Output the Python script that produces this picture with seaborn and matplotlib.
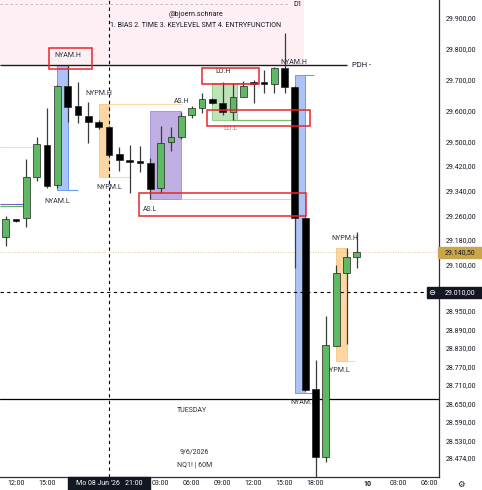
import numpy as np
import pandas as pd
import matplotlib.pyplot as plt
import matplotlib.transforms as mtransforms
from matplotlib.patches import Rectangle
import seaborn as sns

# NQ1! 60M candles, bar index 0 = Mo 08 Jun 12:00 (23:00 bar = session break)
bar = list(range(-1, 34))
open_ = [29189, 29245, 29250, 29383, 29489, 29357, 29680, 29615, 29583, 29564,
         29547, 29460, 29436, 29433, 29431, 29350, 29499, 29515, 29586, 29609,
         29638, 29625, 29596, 29645, 29688, 29689, 29686, 29738, 29677, 29250,
         28697, 28477, 28836, 29072, 29124]
high = [29257, 29248, 29444, 29515, 29609, 29682, 29748, 29693, 29628, 29568,
        29550, 29483, 29489, 29486, 29447, 29551, 29548, 29596, 29615, 29658,
        29641, 29693, 29690, 29696, 29699, 29732, 29742, 29852, 29680, 29255,
        28791, 28933, 29098, 29153, 29205]
low = [29160, 29240, 29221, 29370, 29350, 29350, 29564, 29560, 29496, 29540,
       29455, 29405, 29334, 29399, 29312, 29334, 29467, 29506, 29574, 29593,
       29622, 29586, 29570, 29645, 29625, 29658, 29658, 29657, 29090, 28690,
       28380, 28461, 28836, 28843, 29088]
close = [29247, 29243, 29383, 29492, 29354, 29680, 29612, 29586, 29564, 29547,
         29457, 29438, 29433, 29431, 29344, 29496, 29515, 29583, 29609, 29638,
         29625, 29596, 29645, 29680, 29685, 29686, 29738, 29677, 29250, 28694,
         28477, 28840, 29072, 29124, 29140.5]

df = pd.DataFrame({"bar": bar, "open": open_, "high": high, "low": low, "close": close})

# key levels
pdh = 29748
d1_low, d1_top = 29748, 29960
cursor_price = 29010
last_price = 29140.5
tuesday_line = 28665

# sessions: start bar, end bar, high, low
nyam_1 = (4, 5, 29748, 29341)
nypm_1 = (8, 9, 29622, 29383)
asia = (13, 16, 29599, 29312)
london = (19, 21.4, 29690, 29570)
nyam_2 = (27, 28, 29716, 28684)
nypm_2 = (31, 32, 29153, 28788)

# marked zones (red)
zones = [(3.2, 7.35, 29735, 29803), (18.0, 23.5, 29687, 29738),
         (18.5, 28.45, 29551, 29603), (11.9, 28.05, 29257, 29331)]

# y axis ticks (price scale) and time axis
y_ticks = [29900, 29800, 29700, 29600, 29500, 29420, 29340, 29260, 29180, 29100,
           28950, 28890, 28830, 28770, 28710, 28650, 28590, 28530, 28474]
x_ticks = [0, 3, 14, 17, 20, 23, 26, 29, 34, 37, 40]
x_labels = ["12:00", "15:00", "03:00", "06:00", "09:00", "12:00", "15:00",
            "18:00", "10", "03:00", "06:00"]

sns.set_theme(style="white")
plt.rcParams['font.family'] = ['Roboto', 'DejaVu Sans']

W, H = 482, 490
fig = plt.figure(figsize=(W / 100, H / 100), dpi=100)
ax = fig.add_axes([0, 13 / H, 439 / W, 477 / H])
x0, x1 = -1.55, 40.95
ax.set_xlim(x0, x1)
ax.set_ylim(28412, 29958)

def eu(v):
    return f"{v:,.2f}".replace(",", "X").replace(".", ",").replace("X", ".")

txt = '#131722'
fs = 5

# D1 pink area and top dashed line
ax.fill_between([x0, 27.9], d1_low, d1_top, color='#fdeff3', lw=0, zorder=0)
ax.hlines(29945, x0, 26.3, colors='#b8b8b8', lw=0.6, linestyles=(0, (3, 3)), zorder=1)
ax.text(27.3, 29945, "D1", fontsize=fs, color=txt, ha='center', va='center')

def box(s, fc, ec):
    ax.add_patch(Rectangle((s[0], s[3]), s[1] - s[0], s[2] - s[3], facecolor=fc,
                           edgecolor=ec, lw=0.7, zorder=1))

blue_fc, blue_ec = '#abc3f7', '#6b9cf0'
box(nyam_1, blue_fc, blue_ec)
box(nyam_2, blue_fc, blue_ec)
box(nypm_1, '#fdd6a2', '#f9c98a')
box(nypm_2, '#fdd6a2', '#f9c98a')
box(asia, '#bfaee1', '#a994d8')
box(london, '#bde3b8', '#8fd08a')

# extension lines
ax.hlines(nyam_1[3], 5, 6, colors=blue_ec, lw=0.8, zorder=1)
ax.hlines(nyam_2[2], 28, 28.85, colors=blue_ec, lw=0.8, zorder=1)
ax.hlines(nyam_2[3], 28, 29.2, colors=blue_ec, lw=0.8, zorder=1)
ax.hlines(nypm_1[2], 9, 16.1, colors='#fbd9a8', lw=0.8, zorder=1)
ax.hlines(nypm_1[3], 9, 11.0, colors='#fbd9a8', lw=0.8, zorder=1)
ax.hlines(nypm_2[3], 32, 32.8, colors='#fbd9a8', lw=0.8, zorder=1)
ax.hlines(asia[3], 16, 26.7, colors='#d4cdee', lw=0.8, zorder=1)
ax.hlines(london[2], 21.4, 23.4, colors='#6cc168', lw=0.8, zorder=1)
ax.hlines(london[3], 21, 26.7, colors='#6cc168', lw=0.9, zorder=1)
ax.hlines(29483, x0, 1.6, colors='#fbd9a8', lw=0.8, zorder=1)
ax.hlines(29296, x0, 0.8, colors='#7e5bc4', lw=0.8, zorder=1)
ax.hlines(29289, x0, 0.8, colors='#5cb85c', lw=0.8, zorder=1)

# PDH and other full lines
ax.hlines(pdh, x0, 32.0, colors='#1a1a1a', lw=1.0, zorder=2)
ax.text(32.5, pdh, "PDH -", fontsize=5.5, color=txt, ha='left', va='center')
ax.axhline(tuesday_line, color='#000000', lw=0.9, zorder=2)
ax.axhline(last_price, color='#d9bd7a', lw=0.6, ls=(0, (1, 2)), zorder=1)
ax.axhline(cursor_price, color='#000000', lw=0.8, ls=(0, (3, 3)), zorder=2)
ax.axvline(9, color='#000000', lw=0.8, ls=(0, (3, 3)), zorder=2)

# labels (under candles)
lab = dict(fontsize=fs, color='#2a2e39', ha='center', va='center', zorder=1.5)
ax.text(5.0, 29777, "NYAM.H", **lab)
ax.text(4.0, 29305, "NYAM.L", **lab)
ax.text(8.0, 29654, "NYPM.H", **lab)
ax.text(9.0, 29350, "NYPM.L", **lab)
ax.text(16.75, 29628, "AS.H", fontsize=fs, color='#2a2e39', ha='right', va='center')
ax.text(12.3, 29279, "AS.L", fontsize=fs, color='#2a2e39', ha='left', va='center')
ax.text(19.3, 29725, "LO.H", fontsize=fs, color='#2a2e39', ha='left', va='center')
ax.text(20.8, 29541, "LO.L", fontsize=fs, color='#8a8d96', ha='center', va='center')
ax.text(26.9, 29755, "NYAM.H", **lab)
ax.text(27.8, 28652, "NYAM.L", **lab)
ax.text(31.85, 29185, "NYPM.H", **lab)
ax.text(31.05, 28756, "NYPM.L", **lab)
ax.text(17.0, 28626, "TUESDAY", **lab)
ax.text(17.3, 28494, "9/6/2026", **lab)
ax.text(17.3, 28452, "NQ1! | 60M", **lab)
ax.text(17.4, 29911, "@bjoern.schnare", fontsize=5.2, color=txt, ha='center', va='center')
ax.text(17.4, 29874, "1. BIAS 2. TIME 3. KEYLEVEL SMT 4. ENTRYFUNCTION",
        fontsize=5.0, color=txt, ha='center', va='center')

# candles
up = df["close"] >= df["open"]
body_lo = df[["open", "close"]].min(axis=1)
body_h = (df["close"] - df["open"]).abs().clip(lower=6)
ax.vlines(df["bar"], df["low"], df["high"], colors='#3a3a3a', lw=0.9, zorder=3)
ax.bar(df["bar"], body_h, bottom=body_lo, width=0.66,
       color=np.where(up, '#5fb862', '#000000'), edgecolor='#222222', lw=0.5, zorder=3.5)

# red zone boxes
for a, b, lo_, hi_ in zones:
    ax.add_patch(Rectangle((a, lo_), b - a, hi_ - lo_, fill=False, edgecolor='#e8262b',
                           lw=1.1, zorder=4))

# axes styling
sns.despine(ax=ax, left=True, top=True, right=False, bottom=False)
for s in ("right", "bottom"):
    ax.spines[s].set_color('#2a2e39')
    ax.spines[s].set_linewidth(0.9)
ax.grid(False)
ax.yaxis.tick_right()
ax.set_yticks(y_ticks)
ax.set_yticklabels([eu(v) for v in y_ticks])
ax.set_xticks(x_ticks)
ax.set_xticklabels(x_labels)
ax.tick_params(axis='y', length=0, pad=5, labelsize=fs, labelcolor=txt)
ax.tick_params(axis='x', length=0, pad=2.5, labelsize=fs, labelcolor=txt)
ax.get_xticklabels()[8].set_fontweight('bold')

# price labels on scale
blend = mtransforms.blended_transform_factory(fig.transFigure, ax.transData)
pp = (29958 - 28412) / 477
fig.add_artist(Rectangle((427 / W, cursor_price - 5.5 * pp), 55 / W, 11 * pp,
                         transform=blend, color='#131722', zorder=20))
fig.text(445 / W, cursor_price, eu(cursor_price), transform=blend, fontsize=fs,
         color='white', ha='left', va='center', zorder=21)
fig.text(432 / W, cursor_price, "\u2296", transform=blend, fontsize=6,
         color='white', ha='center', va='center', zorder=21, family=['DejaVu Sans'])
fig.add_artist(Rectangle((438 / W, last_price - 5.5 * pp), 44 / W, 11 * pp,
                         transform=blend, color='#c9a54c', zorder=20))
fig.text(445 / W, last_price, eu(last_price), transform=blend, fontsize=fs,
         color='#131722', ha='left', va='center', zorder=21)

# crosshair time label
fig.add_artist(Rectangle((68 / W, 0), 82 / W, 13 / H, transform=fig.transFigure,
                         color='#131722', zorder=20))
fig.text(109 / W, 6.5 / H, "Mo 08 Jun '26   21:00", fontsize=fs, color='white',
         ha='center', va='center', zorder=21)
fig.text(461 / W, 6 / H, "\u2699", fontsize=6, color=txt, ha='center', va='center',
         family=['DejaVu Sans'])

fig.savefig("out.png", dpi=100)
